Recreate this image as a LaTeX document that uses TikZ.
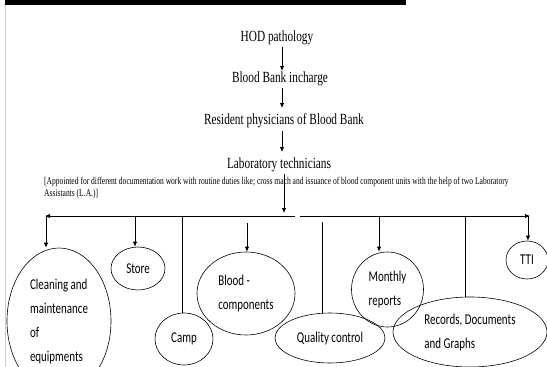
\documentclass[tikz,border=0pt]{standalone}
\usepackage{fontspec}
\setmainfont[FakeStretch=0.73]{Liberation Serif}
\newfontfamily\carl[FakeStretch=0.73]{Carlito}
\usetikzlibrary{arrows.meta,shapes.geometric}
\begin{document}
\begin{tikzpicture}[x=1pt,y=-1pt,
  ln/.style={line width=0.8pt,black},
  arr/.style={ln,-{Latex[length=5pt,width=4.5pt]}},
  serif/.style={font=\fontsize{15.5}{17}\selectfont,inner sep=0pt},
  ell/.style={draw,ellipse,line width=0.6pt,inner sep=0pt,align=left,font=\carl\fontsize{15}{24}\selectfont}]
\useasboundingbox (0,0) rectangle (547,367);
\clip (0,0) rectangle (547,367);
\fill[white] (0,0) rectangle (547,367);
% top bar and left rule
\fill[black] (5,0) rectangle (406,4.6);
\draw[gray!40,line width=0.8pt] (5.5,5) -- (5.5,367);
% hierarchy
\node[serif] (hod) at (277,38) {HOD pathology};
\node[serif] (bbi) at (280,79) {Blood Bank incharge};
\node[serif] (res) at (284,121) {Resident physicians of Blood Bank};
\node[serif] (lab) at (279,165) {Laboratory technicians};
\node[inner sep=0pt,anchor=north west,align=left,font=\fontsize{10.35}{12}\selectfont] (note) at (44,177)
 {[Appointed for different documentation work with routine duties like; cross mach and issuance of blood component units with the help of two Laboratory\\Assistants (L.A.)]};
\draw[arr] (282,47) -- (282,71);
\draw[arr] (282,88) -- (282,108);
\draw[arr] (282,131) -- (282,152);
\coordinate (labdown) at (284,174);
\coordinate (hl) at (284,213);
\draw[arr] (labdown) -- (hl);
% horizontal distribution line
\coordinate (hA) at (295,216);
\coordinate (hB) at (45,216);
\coordinate (hC) at (300,216);
\coordinate (hD) at (530,216);
\draw[arr] (hA) -- (hB);
\draw[arr] (hC) -- (hD);
% ellipses
\node[ell,minimum width=104pt,minimum height=146pt] (clean) at (59,321) {Cleaning and\\maintenance\\of\\equipments};
\node[ell,minimum width=54pt,minimum height=43pt] (store) at (138,268.5) {Store};
\node[ell,minimum width=58pt,minimum height=52pt] (camp) at (184,339) {Camp};
\node[ell,minimum width=98pt,minimum height=83pt] (blood) at (246,293.5) {Blood -\\components};
\node[ell,minimum width=110pt,minimum height=50pt] (qc) at (330,338) {Quality control};
\node[ell,minimum width=72pt,minimum height=75pt] (month) at (387.5,289.5) {Monthly\\reports};
\node[ell,minimum width=154pt,minimum height=70pt] (rec) at (470,332) {Records, Documents\\and Graphs};
\node[ell,minimum width=42pt,minimum height=38pt] (tti) at (527,260) {TTI};
% connectors
\coordinate (tClean) at (46,216);
\coordinate (tStore) at (135,216);
\coordinate (tCamp) at (182,216);
\coordinate (tBlood) at (247,223);
\coordinate (tQC) at (322,222);
\coordinate (tMonth) at (379,216);
\coordinate (tRec) at (465,216);
\coordinate (tTTI) at (528,216);
\draw[arr] (tClean) -- (tClean |- clean.north);
\draw[arr] (tStore) -- (tStore |- store.north);
\draw[ln] (tCamp) -- (tCamp |- camp.north);
\draw[arr] (tBlood) -- (tBlood |- blood.north);
\draw[ln] (tQC) -- (tQC |- qc.north);
\draw[arr] (tMonth) -- (tMonth |- month.north);
\draw[ln] (tRec) -- (tRec |- rec.north);
\draw[arr] (tTTI) -- (tTTI |- tti.north);
\end{tikzpicture}
\end{document}
